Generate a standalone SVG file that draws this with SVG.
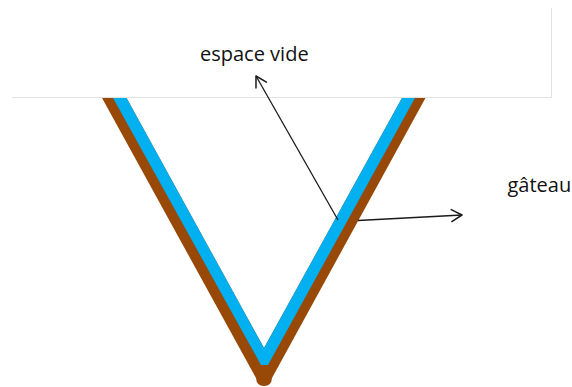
<svg xmlns="http://www.w3.org/2000/svg" width="572" height="387" viewBox="0 0 572 387">
  <style>
    .lbl { font-family: "Open Sans", "Liberation Sans", sans-serif; font-size: 20px; fill: #111111; }
    .conn { stroke: #1a1a1a; stroke-width: 1.3; fill: none; }
    .edge { stroke: #e2e2e2; stroke-width: 1; fill: none; }
  </style>
  <defs>
    <marker id="arrow" markerUnits="userSpaceOnUse" markerWidth="16" markerHeight="16" refX="0" refY="0" viewBox="-13 -8 16 16" orient="auto" overflow="visible">
      <path d="M-10.5,-6 L0,0 L-10.5,6" fill="none" stroke="#1a1a1a" stroke-width="1.5" stroke-linecap="round" stroke-linejoin="round"/>
    </marker>
  </defs>
  <rect width="572" height="387" fill="#ffffff"/>

  <g id="cake">
    <path d="M101.5,97 L256,378 Q256.5,386 264,386 Q271.5,386 272,378 L426,97 L402.5,97 L264,348 L126,97 Z" fill="#984807"/>
    <path d="M112.5,97 L261,365 L268,365 L415.5,97 L402.5,97 L264,348 L126,97 Z" fill="#00b0f0"/>
  </g>

  <g id="empty-space">
    <rect x="12" y="8" width="540" height="89" fill="#ffffff"/>
    <path class="edge" d="M551.5,8 L551.5,97.5 L12,97.5"/>
    <text class="lbl" x="200" y="60.5">espace vide</text>
  </g>

  <g id="gateau">
    <text class="lbl" x="507.5" y="191.5">gâteau</text>
  </g>

  <g id="connectors">
    <line class="conn" x1="338" y1="220" x2="256" y2="76" marker-end="url(#arrow)"/>
    <line class="conn" x1="358" y1="220.5" x2="462" y2="215" marker-end="url(#arrow)"/>
  </g>
</svg>
